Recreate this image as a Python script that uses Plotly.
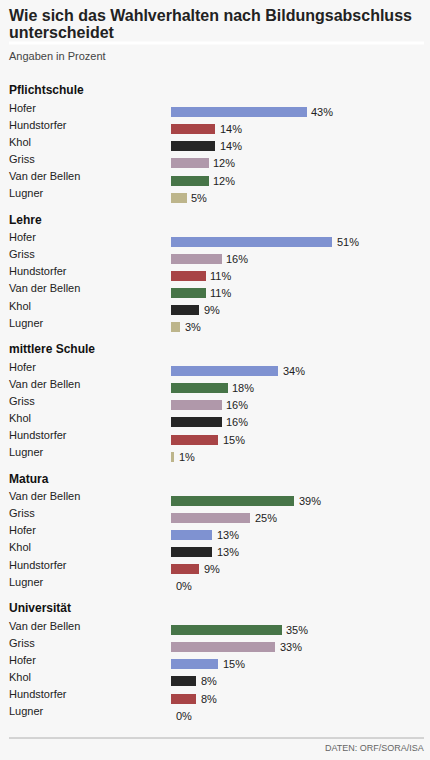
import plotly.graph_objects as go

# ---- data ----
groups = ["Pflichtschule", "Lehre", "mittlere Schule", "Matura", "Universität"]
candidates_pflicht = ["Hofer", "Hundstorfer", "Khol", "Griss", "Van der Bellen", "Lugner"]
values_pflicht = [43, 14, 14, 12, 12, 5]
candidates_lehre = ["Hofer", "Griss", "Hundstorfer", "Van der Bellen", "Khol", "Lugner"]
values_lehre = [51, 16, 11, 11, 9, 3]
candidates_mittel = ["Hofer", "Van der Bellen", "Griss", "Khol", "Hundstorfer", "Lugner"]
values_mittel = [34, 18, 16, 16, 15, 1]
candidates_matura = ["Van der Bellen", "Griss", "Hofer", "Khol", "Hundstorfer", "Lugner"]
values_matura = [39, 25, 13, 13, 9, 0]
candidates_uni = ["Van der Bellen", "Griss", "Hofer", "Khol", "Hundstorfer", "Lugner"]
values_uni = [35, 33, 15, 8, 8, 0]

group_candidates = [candidates_pflicht, candidates_lehre, candidates_mittel, candidates_matura, candidates_uni]
group_values = [values_pflicht, values_lehre, values_mittel, values_matura, values_uni]

colors = {
    "Hofer": "#7f92d1",
    "Hundstorfer": "#a84446",
    "Khol": "#262626",
    "Griss": "#b098aa",
    "Van der Bellen": "#477548",
    "Lugner": "#bdb58b",
}

title_line1 = "Wie sich das Wahlverhalten nach Bildungsabschluss"
title_line2 = "unterscheidet"
subtitle = "Angaben in Prozent"
source = "DATEN: ORF/SORA/ISA"

# ---- layout constants (pixels) ----
W, H = 430, 760
BAR_X0 = 171
PX_PER_PCT = 3.16
GROUP_STEP = 129.5
HEADER_Y0 = 90
BAR_Y0 = 112
ROW_STEP = 17.15
FONT = "Liberation Sans, Arial, sans-serif"
BG = "#f7f7f7"
LEFT = 7  # text left offset (annotation adds ~2px padding)

bar_x, bar_y, bar_c = [], [], []
annotations = []

for g, (gname, cands, vals) in enumerate(zip(groups, group_candidates, group_values)):
    hy = HEADER_Y0 + g * GROUP_STEP
    annotations.append(dict(x=0, xref="paper", xshift=LEFT, y=hy, yref="y", text=f"<b>{gname}</b>",
                            showarrow=False, xanchor="left", yanchor="middle",
                            font=dict(family=FONT, size=12, color="#111")))
    for r, (c, v) in enumerate(zip(cands, vals)):
        by = BAR_Y0 + g * GROUP_STEP + r * ROW_STEP
        bar_x.append(v)
        bar_y.append(by)
        bar_c.append(colors[c])
        annotations.append(dict(x=0, xref="paper", xshift=LEFT, y=by - 4.5, yref="y", text=c,
                                showarrow=False, xanchor="left", yanchor="middle",
                                font=dict(family=FONT, size=11, color="#222")))
        annotations.append(dict(x=v, xref="x", xshift=2.5, y=by, yref="y", text=f"{v}%",
                                showarrow=False, xanchor="left", yanchor="middle",
                                font=dict(family=FONT, size=11, color="#222")))

fig = go.Figure()
fig.add_trace(go.Bar(x=bar_x, y=bar_y, orientation="h", width=10,
                     marker=dict(color=bar_c, line=dict(width=0)),
                     hoverinfo="skip", showlegend=False))

# titles
annotations += [
    dict(x=0, xref="paper", xshift=LEFT, y=15, yref="y", text=f"<b>{title_line1}</b>", showarrow=False,
         xanchor="left", yanchor="middle", font=dict(family=FONT, size=16, color="#222")),
    dict(x=0, xref="paper", xshift=LEFT, y=32, yref="y", text=f"<b>{title_line2}</b>", showarrow=False,
         xanchor="left", yanchor="middle", font=dict(family=FONT, size=16, color="#222")),
    dict(x=0, xref="paper", xshift=LEFT, y=56, yref="y", text=subtitle, showarrow=False,
         xanchor="left", yanchor="middle", font=dict(family=FONT, size=11, color="#444")),
    dict(x=1, xref="paper", xshift=-4, y=748, yref="y", text=source, showarrow=False,
         xanchor="right", yanchor="middle", font=dict(family=FONT, size=9, color="#666")),
]

x_min = -BAR_X0 / PX_PER_PCT
x_max = (W - BAR_X0) / PX_PER_PCT

shapes = [
    dict(type="line", xref="x", yref="y", x0=(9 - BAR_X0) / PX_PER_PCT, x1=(424 - BAR_X0) / PX_PER_PCT,
         y0=43, y1=43, line=dict(color="#ffffff", width=3)),
    dict(type="line", xref="x", yref="y", x0=(9 - BAR_X0) / PX_PER_PCT, x1=(424 - BAR_X0) / PX_PER_PCT,
         y0=738, y1=738, line=dict(color="#b0b0b0", width=1)),
]

fig.update_layout(
    width=W, height=H,
    margin=dict(l=0, r=0, t=0, b=0),
    paper_bgcolor=BG, plot_bgcolor=BG,
    xaxis=dict(range=[x_min, x_max], visible=False, fixedrange=True),
    yaxis=dict(range=[H, 0], visible=False, fixedrange=True),
    annotations=annotations,
    shapes=shapes,
    bargap=0,
)

fig.write_html("out.html", config={"displayModeBar": False})
